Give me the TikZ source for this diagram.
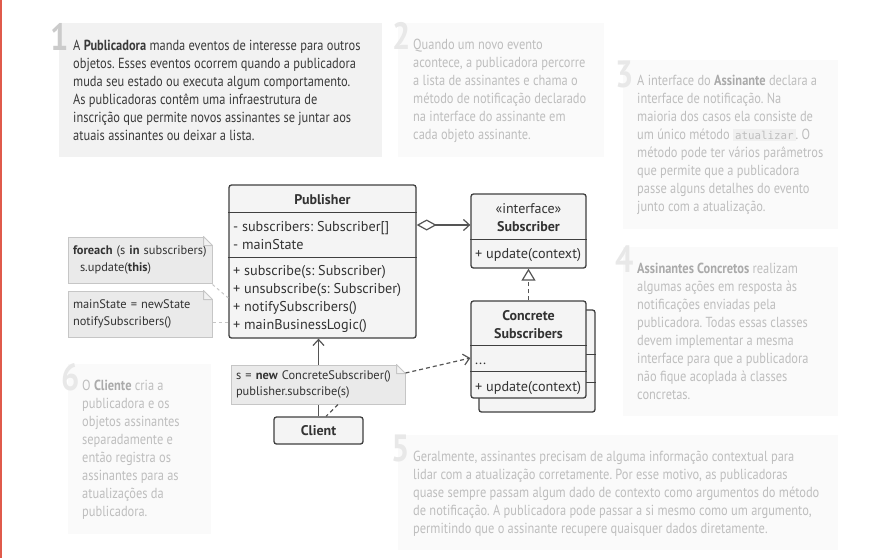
\documentclass[tikz,border=0pt]{standalone}
\usepackage{fontspec}
\setmainfont{PT Sans}
\setmonofont{DejaVu Sans Mono}
\newfontfamily\cardfont[FakeStretch=0.85]{PT Sans}
\usetikzlibrary{arrows.meta}
\frenchspacing

\definecolor{stripe}{HTML}{E05A4B}
\definecolor{umledge}{HTML}{3F3F3F}
\definecolor{umlfill}{HTML}{F4F4F4}
\definecolor{umltext}{HTML}{333333}
\definecolor{notefill}{HTML}{EAEAEA}
\definecolor{noteedge}{HTML}{C6C6C6}
\definecolor{cardon}{HTML}{F2F2F2}
\definecolor{cardoff}{HTML}{FAFAFA}
\definecolor{texton}{HTML}{3A3A3A}
\definecolor{textoff}{HTML}{BEBEBE}
\definecolor{boldoff}{HTML}{AAAAAA}
\definecolor{numon}{HTML}{CBCBCB}
\definecolor{numoff}{HTML}{E8E8E8}
\definecolor{wire}{HTML}{555555}
\definecolor{codebg}{HTML}{F0F0F0}

\tikzset{
  cardtext/.style={anchor=base west, align=left, inner sep=0, font=\cardfont\fontsize{14.6}{18}\selectfont},
  cardnum/.style={anchor=base east, inner sep=0, font=\cardfont\bfseries\fontsize{38}{38}\selectfont},
  umlbox/.style={draw=umledge, fill=umlfill, line width=1.3pt, rounded corners=2.5pt, inner sep=0, text=umltext},
  umlsep/.style={draw=umledge, line width=1.3pt},
  umltitle/.style={anchor=base, inner sep=0, text=umltext, font=\bfseries\fontsize{14}{18}\selectfont},
  member/.style={anchor=base west, inner sep=0, text=umltext, font=\fontsize{14.2}{15}\selectfont},
  note/.style={draw=noteedge, fill=notefill, line width=1pt, minimum width=144, minimum height=46,
    text width=134, align=left, inner xsep=5pt, inner ysep=0, text=umltext, font=\fontsize{12.4}{16.5}\selectfont},
  wire/.style={draw=wire, line width=1.2pt},
  dashwire/.style={wire, dash pattern=on 4pt off 3pt},
  noteline/.style={draw=noteedge, line width=1pt, dash pattern=on 3pt off 3pt},
  openhead/.style={-{Straight Barb[length=6pt,width=11pt]}}
}

\begin{document}
\begin{tikzpicture}[x=1pt, y=-1pt]
\useasboundingbox (0,0) rectangle (881,558);
\fill[stripe] (0,0) rectangle (2,558);

\fill[cardon] (59,23) rectangle (382,157);
\foreach \a/\b/\c/\d in {398/23/604/157, 623/60/838/229, 623/247/838/416, 398/435/838/550, 68/364/211/534}
  \fill[cardoff] (\a,\b) rectangle (\c,\d);

\node[cardnum, text=numon] (n1) at (69,50) {1};
\foreach \t/\x/\y in {2/411/49, 3/634/87, 4/634/272, 5/410/461, 6/80/390}
  \node[cardnum, text=numoff] (n\t) at (\x,\y) {\t};

\node[cardtext, text=texton] (t1) at (73,140) {A \textbf{Publicadora} manda eventos de interesse para outros\\
  objetos. Esses eventos ocorrem quando a publicadora\\
  muda seu estado ou executa algum comportamento.\\
  As publicadoras contêm uma infraestrutura de\\
  inscrição que permite novos assinantes se juntar aos\\
  atuais assinantes ou deixar a lista.};
\node[cardtext, text=textoff] (t2) at (413,139) {Quando um novo evento\\
  acontece, a publicadora percorre\\
  a lista de assinantes e chama o\\
  método de notificação declarado\\
  na interface do assinante em\\
  cada objeto assinante.};
\node[cardtext, text=textoff] (t3) at (637,211) {A interface do \textcolor{boldoff}{\textbf{Assinante}} declara a\\
  interface de notificação. Na\\
  maioria dos casos ela consiste de\\
  um único método {\setlength{\fboxsep}{2pt}\colorbox{codebg}{\ttfamily\fontsize{10.8}{11}\selectfont atualizar}}. O\\
  método pode ter vários parâmetros\\
  que permite que a publicadora\\
  passe alguns detalhes do evento\\
  junto com a atualização.};
\node[cardtext, text=textoff] (t4) at (637,399) {\textcolor{boldoff}{\textbf{Assinantes Concretos}} realizam\\
  algumas ações em resposta às\\
  notificações enviadas pela\\
  publicadora. Todas essas classes\\
  devem implementar a mesma\\
  interface para que a publicadora\\
  não fique acoplada à classes\\
  concretas.};
\node[cardtext, text=textoff] (t5) at (413,533) {Geralmente, assinantes precisam de alguma informação contextual para\\
  lidar com a atualização corretamente. Por esse motivo, as publicadoras\\
  quase sempre passam algum dado de contexto como argumentos do método\\
  de notificação. A publicadora pode passar a si mesmo como um argumento,\\
  permitindo que o assinante recupere quaisquer dados diretamente.};
\node[cardtext, text=textoff] (t6) at (82,516) {O \textcolor{boldoff}{\textbf{Cliente}} cria a\\
  publicadora e os\\
  objetos assinantes\\
  separadamente e\\
  então registra os\\
  assinantes para as\\
  atualizações da\\
  publicadora.};

\node[umlbox, minimum width=187, minimum height=153] (pub) at (322.5,261.5) {};
\draw[umlsep] ([yshift=-28pt]pub.north west) -- ([yshift=-28pt]pub.north east);
\draw[umlsep] ([yshift=-73pt]pub.north west) -- ([yshift=-73pt]pub.north east);
\node[umltitle] (pubname) at (322.5,204) {Publisher};
\foreach \m [count=\i] in {- subscribers: Subscriber[], - mainState}
  \node[member] (pa\i) at (233,213+18*\i) {\m};
\foreach \m [count=\i] in {+ subscribe(s: Subscriber), + unsubscribe(s: Subscriber), + notifySubscribers(), + mainBusinessLogic()}
  \node[member] (pm\i) at (233,257+18*\i) {\m};

\node[umlbox, minimum width=115, minimum height=74] (sub) at (528.5,231) {};
\draw[umlsep] ([yshift=-46pt]sub.north west) -- ([yshift=-46pt]sub.north east);
\node[umltitle, font=\fontsize{14}{18}\selectfont] (subst) at (528.5,213) {«interface»};
\node[umltitle] (subname) at (528.5,231) {Subscriber};
\node[member] (subup) at (475,258) {+ update(context)};

\node[umlbox, minimum width=116, minimum height=102] (concback) at (537,361) {};
\draw[umlsep] ([yshift=-45pt]concback.north west) -- ([yshift=-45pt]concback.north east);
\draw[umlsep] ([yshift=-73pt]concback.north west) -- ([yshift=-73pt]concback.north east);
\node[umlbox, minimum width=115, minimum height=97] (conc) at (528.5,349.5) {};
\draw[umlsep] ([yshift=-45pt]conc.north west) -- ([yshift=-45pt]conc.north east);
\draw[umlsep] ([yshift=-71pt]conc.north west) -- ([yshift=-71pt]conc.north east);
\node[umltitle] (concname1) at (528.5,320) {Concrete};
\node[umltitle] (concname2) at (528.5,338) {Subscribers};
\node[member] (concdots) at (475,364) {...};
\node[member] (concup) at (475,391) {+ update(context)};

\node[umlbox, minimum width=89, minimum height=27, font=\bfseries\fontsize{14}{15}\selectfont] (client) at (318.5,430.5) {Client};

\draw[wire, {Diamond[fill=white,length=20pt,width=11pt]}-{Straight Barb[length=6pt,width=11pt]}]
  ([yshift=36.5pt]pub.east) -- ([yshift=6pt]sub.west);
\draw[dashwire, -{Triangle[fill=white,length=12pt,width=14pt]}] (conc.north) -- (sub.south);
\draw[wire, openhead] (client.north) -- (client.north |- pub.south);

\node[note] (note1) at (140,260) {\textbf{foreach} (s \textbf{in} subscribers)\\\hspace*{7pt}s.update(\textbf{this})};
\node[note] (note2) at (140,314) {mainState = newState\\notifySubscribers()};
\node[note, minimum width=174, minimum height=39, text width=164] (note3) at (318,384.5) {s = \textbf{new} ConcreteSubscriber()\\publisher.subscribe(s)};
\foreach \n in {note1,note2,note3} {
  \filldraw[white, line width=1.2pt, line join=round] (\n.north east) -- ++(-9,0) -- ++(9,9) -- cycle;
  \filldraw[draw=noteedge, fill=notefill!60!white, line width=1pt, line join=round]
    ([xshift=-9pt]\n.north east) -- ++(0,9) -- ++(9,0) -- cycle;
}

\draw[dashwire, openhead] ([yshift=11.5pt]note3.east) -- ([yshift=-8.5pt]conc.west);
\draw[dashwire] ([xshift=20pt]note3.south) -- ([xshift=7.5pt]client.north);
\draw[noteline] ([yshift=-1pt]note1.south east) -- ([yshift=-36.5pt]pub.west);
\draw[noteline] ([yshift=-8pt]note2.east) -- ([yshift=-60.5pt]pub.west);
\end{tikzpicture}
\end{document}
